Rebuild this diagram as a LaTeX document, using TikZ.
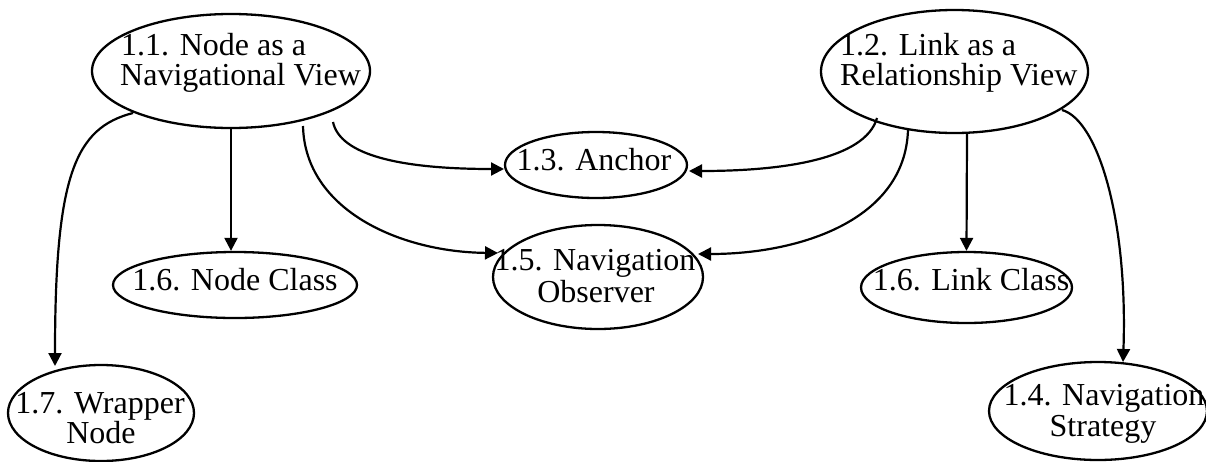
\documentclass[tikz,border=0pt]{standalone}
\usepackage{fontspec}
\setmainfont{Liberation Serif}
\usetikzlibrary{shapes.geometric,arrows.meta,calc}
\begin{document}
\begin{tikzpicture}[x=1pt,y=-1pt,
  bubble/.style={draw, ellipse, line width=2.3pt, inner sep=0pt},
  lbl/.style={inner sep=0pt, font=\fontsize{32}{30}\selectfont},
  link/.style={line width=2.2pt, -{Triangle[length=13pt,width=13pt]}}]
\useasboundingbox (0,0) rectangle (1206,461);

% ellipses
\node[bubble, minimum width=278pt, minimum height=114pt] (n11) at (231,71) {};
\node[bubble, minimum width=267pt, minimum height=123pt] (n12) at (954.5,71.5) {};
\node[bubble, minimum width=182pt, minimum height=66pt] (n13) at (596,165) {};
\node[bubble, minimum width=210pt, minimum height=104pt] (n15) at (598,277) {};
\node[bubble, minimum width=244pt, minimum height=66pt] (n16a) at (235,285) {};
\node[bubble, minimum width=211pt, minimum height=71pt] (n16b) at (966.5,287.5) {};
\node[bubble, minimum width=186pt, minimum height=96pt] (n17) at (101,413) {};
\node[bubble, minimum width=218pt, minimum height=98pt] (n14) at (1098,411) {};

% labels
\node[lbl, anchor=base west] (t11a) at (121,55) {1.1. Node as a};
\node[lbl, anchor=base west] (t11b) at (120,85) {Navigational View};
\node[lbl, anchor=base west] (t12a) at (840,55) {1.2. Link as a};
\node[lbl, anchor=base west] (t12b) at (840,85) {Relationship View};
\node[lbl, anchor=base] (t13) at (594,170) {1.3. Anchor};
\node[lbl, anchor=base] (t15a) at (595,270) {1.5. Navigation};
\node[lbl, anchor=base] (t15b) at (596,302) {Observer};
\node[lbl, anchor=base] (t16a) at (235,290) {1.6. Node Class};
\node[lbl, anchor=base] (t16b) at (971,290) {1.6. Link Class};
\node[lbl, anchor=base] (t17a) at (100,413) {1.7. Wrapper};
\node[lbl, anchor=base] (t17b) at (101,443) {Node};
\node[lbl, anchor=base] (t14a) at (1104,405) {1.4. Navigation};
\node[lbl, anchor=base] (t14b) at (1103,436) {Strategy};

% connectors from 1.1
\draw[link] ($(n11.center)+(-98,42)$) .. controls (75,128) and (55,175) .. ($(n17.center)+(-46,-47)$);
\draw[link] (n11.south) -- (n11.south |- n16a.north);
\draw[link] ($(n11.center)+(72,55)$) .. controls (305,210) and (400,252) .. ($(n15.center)+(-100,-24)$);
\draw[link] ($(n11.center)+(102,51)$) .. controls (340,155) and (400,169) .. ($(n13.center)+(-92,4)$);

% connectors from 1.2
\draw[link] ($(n12.center)+(-77.5,46.5)$) .. controls (865,160) and (780,171) .. ($(n13.center)+(93,6)$);
\draw[link] ($(n12.center)+(-46.5,58.5)$) .. controls (905,220) and (800,254) .. ($(n15.center)+(100,-23)$);
\draw[link] ($(n12.south)+(12.5,0)$) -- (n16b.north);
\draw[link] ($(n12.center)+(107.5,38.5)$) .. controls (1098,120) and (1128,220) .. ($(n14.center)+(25,-49)$);
\end{tikzpicture}
\end{document}
